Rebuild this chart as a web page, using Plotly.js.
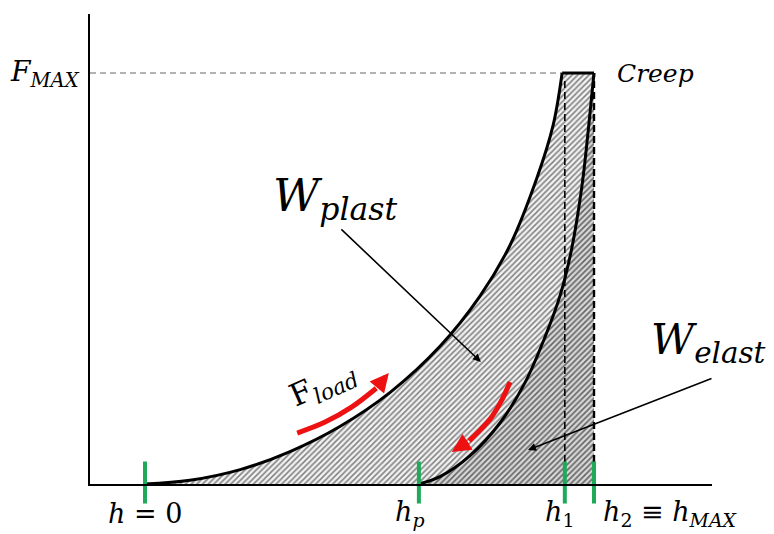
<!DOCTYPE html>
<html>
<head>
<meta charset="utf-8">
<script src="https://cdn.plot.ly/plotly-3.0.1.min.js"></script>
<style>html,body{margin:0;padding:0;background:#fff;}#chart{width:774px;height:534px;}</style>
</head>
<body>
<div id="chart"></div>
<script>
// Loading curve (h, F), normalised: h2 = hMAX = 1, FMAX = 1
var loadH = [0, 0.100, 0.212, 0.323, 0.434, 0.546, 0.657, 0.746, 0.813, 0.873, 0.909, 0.929];
var loadF = [0, 0.009, 0.035, 0.079, 0.140, 0.223, 0.335, 0.457, 0.581, 0.745, 0.873, 1.0];
// Unloading curve
var unloadH = [0.610, 0.657, 0.724, 0.791, 0.846, 0.891, 0.924, 0.950, 0.973, 0.988, 1.0];
var unloadF = [0, 0.018, 0.069, 0.149, 0.246, 0.358, 0.457, 0.571, 0.724, 0.869, 1.0];
// Characteristic depths
var hMarks = [0, 0.610, 0.935, 1.0];
var hMarkF = [0.0036, 0.0036, 0.0036, 0.0036];
var hLabels = ['<i>h</i> = 0', '<i>h</i><sub><i>p</i></sub>', '<i>h</i><sub>1</sub>', '<i>h</i><sub>2</sub> ≡ <i>h</i><sub><i>MAX</i></sub>'];
var hLabelX = [0, 0.588, 0.924, 1.171];
var hLabelF = -0.072;
var FMAX = 1.0;
var hMAX = 1.0;
var h1 = 0.935;
// Red direction arrows
var loadArrowH = [0.339, 0.400, 0.460, 0.515];
var loadArrowF = [0.124, 0.150, 0.187, 0.233];
var loadArrowTip = [0.543, 0.270];
var unloadArrowH = [0.813, 0.795, 0.770, 0.722];
var unloadArrowF = [0.248, 0.205, 0.160, 0.105];
var unloadArrowTip = [0.683, 0.078];

var xr = [-0.1225, 1.2628];
var yr = [0, 1.1436];
var serif = 'DejaVu Serif';
function toPX(h) { return (h - xr[0]) / (xr[1] - xr[0]); }
function toPY(F) { return (F - yr[0]) / (yr[1] - yr[0]); }

var lightPat = {shape: '/', bgcolor: '#f2f2f2', fgcolor: '#808080', size: 4, solidity: 0.38};
var darkPat = {shape: '/', bgcolor: '#d8d8d8', fgcolor: '#666666', size: 4, solidity: 0.42};
var clear = 'rgba(0,0,0,0)';

var traces = [
  // right boundary (h2) used as fill reference
  {x: [hMAX, hMAX], y: [0, FMAX], mode: 'lines', line: {width: 0, color: clear}, hoverinfo: 'skip'},
  // elastic work: between unloading curve and h2
  {x: unloadH, y: unloadF, mode: 'lines', fill: 'tonextx', fillcolor: clear, fillpattern: darkPat,
   line: {width: 0, color: clear, shape: 'spline', smoothing: 1}, hoverinfo: 'skip'},
  // plastic work: between loading and unloading curves
  {x: loadH, y: loadF, mode: 'lines', fill: 'tonextx', fillcolor: clear, fillpattern: lightPat,
   line: {width: 0, color: clear, shape: 'spline', smoothing: 1}, hoverinfo: 'skip'},
  // dashed guide lines
  {x: [xr[0], loadH[loadH.length-1]], y: [FMAX, FMAX], mode: 'lines', line: {color: '#9a9a9a', width: 1.5, dash: '6px,4px'}},
  {x: [h1, h1], y: [0, 0.985], mode: 'lines', line: {color: '#000', width: 1.6, dash: '7px,4px'}},
  {x: [hMAX, hMAX], y: [0, FMAX], mode: 'lines', line: {color: '#000', width: 2.4, dash: '7px,4px'}},
  // curves
  {x: loadH, y: loadF, mode: 'lines', line: {color: '#000', width: 3, shape: 'spline', smoothing: 1}},
  {x: unloadH, y: unloadF, mode: 'lines', line: {color: '#000', width: 3, shape: 'spline', smoothing: 1}},
  {x: [loadH[loadH.length-1], hMAX], y: [FMAX, FMAX], mode: 'lines', line: {color: '#000', width: 3}},
  // red arrows
  {x: loadArrowH, y: loadArrowF, mode: 'lines', line: {color: '#ee1111', width: 5, shape: 'spline'}},
  {x: unloadArrowH, y: unloadArrowF, mode: 'lines', line: {color: '#ee1111', width: 5, shape: 'spline'}},
  // green depth markers
  {x: hMarks, y: hMarkF, mode: 'markers', cliponaxis: false,
   marker: {symbol: 'line-ns', size: 30, line: {width: 4, color: '#1faa59'}, color: '#1faa59'}}
];

var ann = [];
for (var i = 0; i < hLabels.length; i++) {
  ann.push({x: toPX(hLabelX[i]), y: toPY(hLabelF), xref: 'paper', yref: 'paper', text: hLabels[i], showarrow: false,
    font: {family: serif, size: 27, color: '#000'}, xanchor: 'center', yanchor: 'middle'});
}
ann.push({x: toPX(-0.223), y: toPY(FMAX), xref: 'paper', yref: 'paper', text: '<i>F</i><sub><i>MAX</i></sub>', showarrow: false,
  font: {family: serif, size: 28, color: '#000'}, xanchor: 'center', yanchor: 'middle'});
ann.push({x: 1.136, y: 1.0, xref: 'x', yref: 'y', text: '<i>Creep</i>', showarrow: false,
  font: {family: serif, size: 25, color: '#000'}, xanchor: 'center', yanchor: 'middle'});
ann.push({x: 0.424, y: 0.695, xref: 'x', yref: 'y', text: '<i>W</i><sub><i>plast</i></sub>', showarrow: false,
  font: {family: serif, size: 45, color: '#000'}, xanchor: 'center', yanchor: 'middle'});
ann.push({x: 1.255, y: 0.345, xref: 'x', yref: 'y', text: '<i>W</i><sub><i>elast</i></sub>', showarrow: false,
  font: {family: serif, size: 42, color: '#000'}, xanchor: 'center', yanchor: 'middle'});
ann.push({x: 0.396, y: 0.24, xref: 'x', yref: 'y', text: 'F<sub><i>load</i></sub>', showarrow: false, textangle: -24,
  font: {family: serif, size: 31, color: '#000'}, xanchor: 'center', yanchor: 'middle'});
// black pointer arrows
ann.push({x: 0.748, y: 0.297, ax: 0.434, ay: 0.623, xref: 'x', yref: 'y', axref: 'x', ayref: 'y', text: '',
  showarrow: true, arrowhead: 2, arrowsize: 1, arrowwidth: 1.6, arrowcolor: '#000'});
ann.push({x: 0.853, y: 0.083, ax: 1.265, ay: 0.258, xref: 'x', yref: 'y', axref: 'x', ayref: 'y', text: '',
  showarrow: true, arrowhead: 2, arrowsize: 1, arrowwidth: 1.6, arrowcolor: '#000'});
// red arrow heads
ann.push({x: loadArrowTip[0], y: loadArrowTip[1], ax: loadArrowH[loadArrowH.length-1], ay: loadArrowF[loadArrowF.length-1],
  xref: 'x', yref: 'y', axref: 'x', ayref: 'y', text: '', showarrow: true, arrowhead: 2, arrowsize: 0.75, arrowwidth: 5, arrowcolor: '#ee1111', standoff: 0});
ann.push({x: unloadArrowTip[0], y: unloadArrowTip[1], ax: unloadArrowH[unloadArrowH.length-1], ay: unloadArrowF[unloadArrowF.length-1],
  xref: 'x', yref: 'y', axref: 'x', ayref: 'y', text: '', showarrow: true, arrowhead: 2, arrowsize: 0.75, arrowwidth: 5, arrowcolor: '#ee1111', standoff: 0});

var layout = {
  width: 774, height: 534,
  margin: {l: 90, r: 62, t: 14, b: 50, pad: 0},
  paper_bgcolor: '#fff', plot_bgcolor: '#fff',
  showlegend: false,
  xaxis: {range: xr, showgrid: false, zeroline: false, showticklabels: false, ticks: '', showline: true, linecolor: '#000', linewidth: 2, fixedrange: true},
  yaxis: {range: yr, showgrid: false, zeroline: false, showticklabels: false, ticks: '', showline: true, linecolor: '#000', linewidth: 2, fixedrange: true},
  annotations: ann
};
Plotly.newPlot('chart', traces, layout, {displayModeBar: false, staticPlot: true});
</script>
</body>
</html>
